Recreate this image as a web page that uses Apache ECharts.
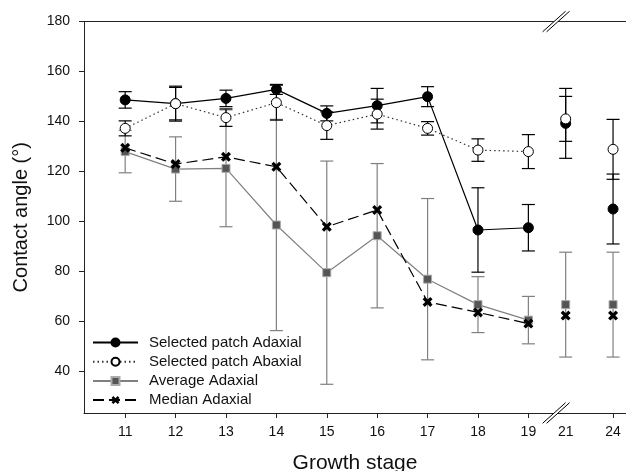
<!DOCTYPE html>
<html>
<head>
<meta charset="utf-8">
<script src="https://cdn.jsdelivr.net/npm/echarts@6/dist/echarts.min.js"></script>
<style>
html,body{margin:0;padding:0;background:#fff;}
#c{width:626px;height:471px;}
</style>
</head>
<body>
<div id="c"></div>
<script>
// ---- data ----
const stages = ['11','12','13','14','15','16','17','18','19','21','24'];
const tickedStages = ['11','12','13','14','15','16','17','18','19','24'];
const adaxial    = [148.6,147.1,149.2,152.8,143.2,146.3,149.9,96.5,97.4,139.2,104.9];
const adaxialErr = [3.3,7,3.3,2,3,6.9,4,16.9,9.3,14,14];
const abaxial    = [137.2,147.1,141.5,147.5,138.3,142.9,137.2,128.5,127.9,141,128.8];
const abaxialErr = [3,6.5,3.5,7,5.5,6,2.7,4.5,6.8,9,12];
const average    = [127.9,120.9,121.2,98.5,79.4,94.2,76.8,66.6,60.4,66.6,66.6];
const averageErr = [8.5,12.9,23.4,42.3,44.7,28.9,32.3,11.2,9.5,21,21];
const median     = [129.4,122.9,125.8,121.8,97.8,104.5,67.7,63.5,59,62.2,62.2];
const yTicks = [40,60,80,100,120,140,160,180];
// stages after the axis break are not joined to the line
const breakAfter = '19';

// ---- layout (axis positions of the stages on the broken axis) ----
const stagePos = [0,1,2,3,4,5,6,7,8,8.74,9.68];
const xMin = -0.817, xMax = 9.937, breakPos = 8.55;
const yMin = 23.2, yMax = 180;
const FONT = 'Liberation Sans, Arial, Helvetica, sans-serif';

function lineData(vals){
  const out = [];
  const bi = stages.indexOf(breakAfter);
  vals.forEach((v,i)=>{
    if (i > bi) out.push([stagePos[i]-0.01,'-']);
    out.push([stagePos[i], v]);
  });
  return out;
}
function errData(vals, errs){
  return vals.map((v,i)=>[stagePos[i], v, errs[i]]);
}
function errSeries(vals, errs, color){
  return {
    type:'custom', data: errData(vals, errs), z:1, silent:true,
    encode:{x:0,y:1},
    renderItem(params, api){
      const x = api.value(0), y = api.value(1), e = api.value(2);
      const t = api.coord([x, y+e]), b = api.coord([x, y-e]);
      const hw = 6.5;
      const st = {stroke:color, lineWidth:1.2};
      return {type:'group', children:[
        {type:'line', shape:{x1:t[0],y1:t[1],x2:b[0],y2:b[1]}, style:st},
        {type:'line', shape:{x1:t[0]-hw,y1:t[1],x2:t[0]+hw,y2:t[1]}, style:st},
        {type:'line', shape:{x1:b[0]-hw,y1:b[1],x2:b[0]+hw,y2:b[1]}, style:st}
      ]};
    }
  };
}
const xSym = 'path://M0,2.3 L2.3,0 L5,2.7 L7.7,0 L10,2.3 L7.3,5 L10,7.7 L7.7,10 L5,7.3 L2.3,10 L0,7.7 L2.7,5 Z';

const chart = echarts.init(document.getElementById('c'), null, {renderer:'canvas'});
const posLabel = v => { const i = stagePos.findIndex(p=>Math.abs(p-v)<1e-6); return i>=0 ? stages[i] : ''; };

chart.setOption({
  animation:false,
  backgroundColor:'#fff',
  grid:{left:84, right:0, top:21.5, bottom:58, outerBoundsMode:'none'},
  legend:{
    orient:'vertical', left:87, top:330, padding:5,
    itemWidth:45, itemHeight:10, itemGap:4.2,
    textStyle:{fontFamily:FONT, fontSize:15, color:'#111', lineHeight:15, padding:[0,0,0,6]},
    data:['Selected patch Adaxial','Selected patch Abaxial','Average Adaxial','Median Adaxial']
  },
  xAxis:[{
    type:'value', min:xMin, max:xMax, position:'bottom',
    name:'Growth stage', nameLocation:'middle', nameGap:40,
    nameTextStyle:{fontFamily:FONT, fontSize:21, color:'#111'},
    axisLine:{show:true, onZero:false, lineStyle:{color:'#222', width:1}},
    axisTick:{show:true, length:5, lineStyle:{color:'#222'},
      customValues: stagePos.filter((p,i)=>tickedStages.includes(stages[i]))},
    axisLabel:{fontFamily:FONT, fontSize:14, color:'#111', margin:12,
      customValues: stagePos, formatter: posLabel},
    splitLine:{show:false}
  },{
    type:'value', min:xMin, max:xMax, position:'top',
    axisLine:{show:true, onZero:false, lineStyle:{color:'#222', width:1}},
    axisTick:{show:false}, axisLabel:{show:false}, splitLine:{show:false}
  }],
  yAxis:{
    type:'value', min:yMin, max:yMax, position:'left',
    name:'Contact angle (°)', nameLocation:'middle', nameGap:53, nameRotate:90,
    nameTextStyle:{fontFamily:FONT, fontSize:20, color:'#111'},
    axisLine:{show:true, onZero:false, lineStyle:{color:'#222', width:1}},
    axisTick:{show:true, length:5, lineStyle:{color:'#222'}, customValues:yTicks},
    axisLabel:{fontFamily:FONT, fontSize:14, color:'#111', margin:14, customValues:yTicks},
    splitLine:{show:false}
  },
  series:[
    errSeries(average, averageErr, '#808080'),
    errSeries(adaxial, adaxialErr, '#000'),
    errSeries(abaxial, abaxialErr, '#000'),
    {
      name:'Average Adaxial', type:'line', data: lineData(average), z:2,
      symbol:'rect', symbolSize:8, connectNulls:false,
      lineStyle:{color:'#808080', width:1.2},
      itemStyle:{color:'#555', borderColor:'#aaa', borderWidth:1}
    },
    {
      name:'Median Adaxial', type:'line', data: lineData(median), z:3,
      symbol:xSym, symbolSize:10, connectNulls:false,
      lineStyle:{color:'#000', width:1.2, type:[11,5]},
      itemStyle:{color:'#000'}
    },
    {
      name:'Selected patch Adaxial', type:'line', data: lineData(adaxial), z:4,
      symbol:'circle', symbolSize:10, connectNulls:false,
      lineStyle:{color:'#000', width:1.2},
      itemStyle:{color:'#000', borderColor:'#000', borderWidth:1}
    },
    {
      name:'Selected patch Abaxial', type:'line', data: lineData(abaxial), z:5,
      symbol:'circle', symbolSize:10, connectNulls:false,
      lineStyle:{color:'#333', width:1.2, type:[1.5,3]},
      itemStyle:{color:'#fff', borderColor:'#000', borderWidth:1}
    }
  ]
});

// axis break marks (double slash) on bottom and top axes
const bx = chart.convertToPixel({xAxisIndex:0}, breakPos);
const yb = chart.convertToPixel({yAxisIndex:0}, yMin);
const yt = chart.convertToPixel({yAxisIndex:0}, yMax);
function breakMark(cx, cy){
  const hw = 11.5, hh = 10.3, d = 4;
  return [
    {type:'polygon', z:100, shape:{points:[[cx-hw-d/2,cy+hh],[cx+hw-d/2,cy-hh],[cx+hw+d/2,cy-hh],[cx-hw+d/2,cy+hh]]}, style:{fill:'#fff'}},
    {type:'line', z:101, shape:{x1:cx-hw-d/2,y1:cy+hh,x2:cx+hw-d/2,y2:cy-hh}, style:{stroke:'#000', lineWidth:1}},
    {type:'line', z:101, shape:{x1:cx-hw+d/2,y1:cy+hh,x2:cx+hw+d/2,y2:cy-hh}, style:{stroke:'#000', lineWidth:1}}
  ];
}
chart.setOption({graphic: breakMark(bx, yb).concat(breakMark(bx, yt))});
</script>
</body>
</html>
